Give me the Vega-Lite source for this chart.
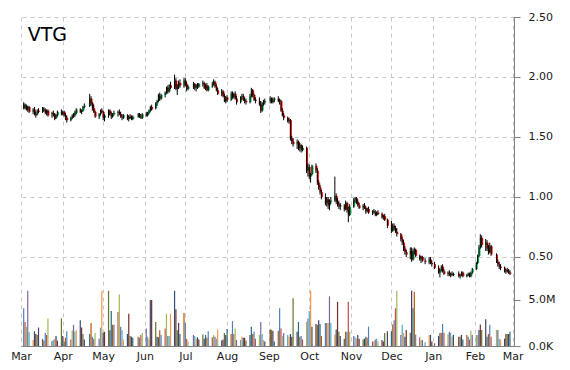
{
"$schema": "https://vega.github.io/schema/vega-lite/v6.json",
"width": 493, "height": 329,
"autosize": {"type": "none"},
"padding": {"left": 21, "top": 17, "right": 56, "bottom": 24},
"background": "white",
"config": {"view": {"stroke": null}, "axis": {"labelFont": "DejaVu Sans", "labelFontSize": 11, "labelColor": "#1a1a1a", "domainColor": "#808080", "tickColor": "#808080"}},
"datasets": {"px": [
{"d":"2014-03-03","o":1.77,"h":1.79,"l":1.73,"c":1.74,"v":4.1},
{"d":"2014-03-04","o":1.74,"h":1.78,"l":1.73,"c":1.77,"v":2.6},
{"d":"2014-03-05","o":1.76,"h":1.77,"l":1.72,"c":1.73,"v":2.1},
{"d":"2014-03-06","o":1.73,"h":1.76,"l":1.71,"c":1.75,"v":6.0},
{"d":"2014-03-07","o":1.75,"h":1.76,"l":1.70,"c":1.71,"v":1.5},
{"d":"2014-03-10","o":1.71,"h":1.74,"l":1.69,"c":1.73,"v":0.65},
{"d":"2014-03-11","o":1.73,"h":1.75,"l":1.68,"c":1.69,"v":1.6},
{"d":"2014-03-12","o":1.69,"h":1.71,"l":1.66,"c":1.68,"v":1.3},
{"d":"2014-03-13","o":1.69,"h":1.73,"l":1.68,"c":1.72,"v":1.2},
{"d":"2014-03-14","o":1.72,"h":1.74,"l":1.70,"c":1.71,"v":2.0},
{"d":"2014-03-17","o":1.71,"h":1.75,"l":1.70,"c":1.74,"v":0.75},
{"d":"2014-03-18","o":1.73,"h":1.75,"l":1.71,"c":1.72,"v":0.6},
{"d":"2014-03-19","o":1.72,"h":1.74,"l":1.69,"c":1.70,"v":1.4},
{"d":"2014-03-20","o":1.70,"h":1.73,"l":1.68,"c":1.72,"v":1.2},
{"d":"2014-03-21","o":1.72,"h":1.73,"l":1.67,"c":1.68,"v":3.0},
{"d":"2014-03-24","o":1.69,"h":1.71,"l":1.66,"c":1.70,"v":0.55},
{"d":"2014-03-25","o":1.70,"h":1.72,"l":1.67,"c":1.68,"v":0.65},
{"d":"2014-03-26","o":1.69,"h":1.70,"l":1.64,"c":1.65,"v":0.8},
{"d":"2014-03-27","o":1.66,"h":1.69,"l":1.65,"c":1.68,"v":1.1},
{"d":"2014-03-28","o":1.68,"h":1.72,"l":1.67,"c":1.71,"v":0.6},
{"d":"2014-03-31","o":1.71,"h":1.73,"l":1.68,"c":1.69,"v":3.0},
{"d":"2014-04-01","o":1.69,"h":1.72,"l":1.68,"c":1.71,"v":1.1},
{"d":"2014-04-02","o":1.71,"h":1.72,"l":1.67,"c":1.68,"v":0.5},
{"d":"2014-04-03","o":1.68,"h":1.70,"l":1.64,"c":1.66,"v":0.9},
{"d":"2014-04-04","o":1.66,"h":1.68,"l":1.62,"c":1.64,"v":1.6},
{"d":"2014-04-07","o":1.64,"h":1.67,"l":1.63,"c":1.66,"v":0.7},
{"d":"2014-04-08","o":1.66,"h":1.69,"l":1.65,"c":1.68,"v":1.7},
{"d":"2014-04-09","o":1.68,"h":1.70,"l":1.66,"c":1.67,"v":2.3},
{"d":"2014-04-10","o":1.68,"h":1.72,"l":1.67,"c":1.71,"v":1.55},
{"d":"2014-04-11","o":1.70,"h":1.74,"l":1.69,"c":1.73,"v":1.7},
{"d":"2014-04-14","o":1.73,"h":1.74,"l":1.70,"c":1.71,"v":2.8},
{"d":"2014-04-15","o":1.71,"h":1.73,"l":1.69,"c":1.72,"v":2.0},
{"d":"2014-04-16","o":1.72,"h":1.76,"l":1.71,"c":1.75,"v":1.3},
{"d":"2014-04-17","o":1.75,"h":1.78,"l":1.74,"c":1.76,"v":0.7},
{"d":"2014-04-21","o":1.76,"h":1.86,"l":1.75,"c":1.82,"v":1.3},
{"d":"2014-04-22","o":1.82,"h":1.84,"l":1.76,"c":1.78,"v":2.5},
{"d":"2014-04-23","o":1.78,"h":1.79,"l":1.72,"c":1.74,"v":1.0},
{"d":"2014-04-24","o":1.74,"h":1.77,"l":1.70,"c":1.71,"v":0.8},
{"d":"2014-04-25","o":1.71,"h":1.72,"l":1.66,"c":1.67,"v":1.4},
{"d":"2014-04-28","o":1.67,"h":1.70,"l":1.65,"c":1.69,"v":0.8},
{"d":"2014-04-29","o":1.69,"h":1.73,"l":1.68,"c":1.72,"v":2.0},
{"d":"2014-04-30","o":1.72,"h":1.74,"l":1.70,"c":1.71,"v":6.0},
{"d":"2014-05-01","o":1.71,"h":1.72,"l":1.64,"c":1.66,"v":1.45},
{"d":"2014-05-02","o":1.66,"h":1.69,"l":1.63,"c":1.68,"v":1.55},
{"d":"2014-05-05","o":1.68,"h":1.73,"l":1.66,"c":1.72,"v":6.0},
{"d":"2014-05-06","o":1.72,"h":1.73,"l":1.68,"c":1.69,"v":1.7},
{"d":"2014-05-07","o":1.69,"h":1.71,"l":1.65,"c":1.67,"v":3.8},
{"d":"2014-05-08","o":1.67,"h":1.70,"l":1.66,"c":1.69,"v":2.3},
{"d":"2014-05-09","o":1.69,"h":1.72,"l":1.68,"c":1.70,"v":2.35},
{"d":"2014-05-12","o":1.70,"h":1.72,"l":1.67,"c":1.71,"v":3.7},
{"d":"2014-05-13","o":1.71,"h":1.73,"l":1.68,"c":1.69,"v":5.6},
{"d":"2014-05-14","o":1.69,"h":1.71,"l":1.66,"c":1.67,"v":2.1},
{"d":"2014-05-15","o":1.67,"h":1.69,"l":1.64,"c":1.66,"v":1.7},
{"d":"2014-05-16","o":1.66,"h":1.69,"l":1.65,"c":1.68,"v":0.7},
{"d":"2014-05-19","o":1.68,"h":1.69,"l":1.64,"c":1.65,"v":1.3},
{"d":"2014-05-20","o":1.65,"h":1.68,"l":1.63,"c":1.67,"v":3.5},
{"d":"2014-05-21","o":1.67,"h":1.69,"l":1.65,"c":1.66,"v":1.1},
{"d":"2014-05-22","o":1.66,"h":1.68,"l":1.64,"c":1.65,"v":1.0},
{"d":"2014-05-23","o":1.65,"h":1.68,"l":1.64,"c":1.67,"v":0.9},
{"d":"2014-05-27","o":1.67,"h":1.70,"l":1.66,"c":1.69,"v":1.0},
{"d":"2014-05-28","o":1.69,"h":1.70,"l":1.66,"c":1.67,"v":0.9},
{"d":"2014-05-29","o":1.67,"h":1.69,"l":1.65,"c":1.66,"v":1.2},
{"d":"2014-05-30","o":1.66,"h":1.70,"l":1.65,"c":1.69,"v":1.4},
{"d":"2014-06-02","o":1.69,"h":1.71,"l":1.67,"c":1.68,"v":1.9},
{"d":"2014-06-03","o":1.68,"h":1.71,"l":1.67,"c":1.70,"v":1.0},
{"d":"2014-06-04","o":1.70,"h":1.73,"l":1.69,"c":1.72,"v":0.8},
{"d":"2014-06-05","o":1.72,"h":1.76,"l":1.71,"c":1.75,"v":5.0},
{"d":"2014-06-06","o":1.75,"h":1.77,"l":1.72,"c":1.73,"v":5.0},
{"d":"2014-06-09","o":1.74,"h":1.79,"l":1.73,"c":1.78,"v":2.6},
{"d":"2014-06-10","o":1.78,"h":1.81,"l":1.76,"c":1.80,"v":1.0},
{"d":"2014-06-11","o":1.80,"h":1.86,"l":1.79,"c":1.85,"v":0.95},
{"d":"2014-06-12","o":1.84,"h":1.87,"l":1.80,"c":1.82,"v":1.7},
{"d":"2014-06-13","o":1.82,"h":1.86,"l":1.81,"c":1.85,"v":1.2},
{"d":"2014-06-16","o":1.85,"h":1.88,"l":1.83,"c":1.87,"v":1.9},
{"d":"2014-06-17","o":1.87,"h":1.92,"l":1.86,"c":1.91,"v":3.5},
{"d":"2014-06-18","o":1.91,"h":1.93,"l":1.86,"c":1.88,"v":1.1},
{"d":"2014-06-19","o":1.88,"h":1.94,"l":1.87,"c":1.93,"v":1.1},
{"d":"2014-06-20","o":1.93,"h":1.96,"l":1.90,"c":1.91,"v":3.5},
{"d":"2014-06-23","o":1.92,"h":2.02,"l":1.90,"c":1.97,"v":6.0},
{"d":"2014-06-24","o":1.97,"h":1.99,"l":1.89,"c":1.90,"v":4.0},
{"d":"2014-06-25","o":1.90,"h":1.94,"l":1.85,"c":1.92,"v":1.7},
{"d":"2014-06-26","o":1.92,"h":1.97,"l":1.90,"c":1.95,"v":2.5},
{"d":"2014-06-27","o":1.95,"h":1.98,"l":1.91,"c":1.93,"v":1.3},
{"d":"2014-06-30","o":1.93,"h":1.99,"l":1.91,"c":1.97,"v":3.6},
{"d":"2014-07-01","o":1.97,"h":1.99,"l":1.92,"c":1.94,"v":2.5},
{"d":"2014-07-02","o":1.94,"h":1.96,"l":1.88,"c":1.90,"v":0.75},
{"d":"2014-07-03","o":1.90,"h":1.93,"l":1.89,"c":1.92,"v":0.5},
{"d":"2014-07-07","o":1.92,"h":1.96,"l":1.90,"c":1.94,"v":1.2},
{"d":"2014-07-08","o":1.94,"h":1.95,"l":1.89,"c":1.91,"v":1.1},
{"d":"2014-07-09","o":1.91,"h":1.94,"l":1.88,"c":1.93,"v":0.8},
{"d":"2014-07-10","o":1.93,"h":1.95,"l":1.90,"c":1.92,"v":0.95},
{"d":"2014-07-11","o":1.92,"h":1.95,"l":1.91,"c":1.94,"v":0.7},
{"d":"2014-07-14","o":1.94,"h":1.97,"l":1.92,"c":1.95,"v":1.25},
{"d":"2014-07-15","o":1.95,"h":1.96,"l":1.90,"c":1.91,"v":0.8},
{"d":"2014-07-16","o":1.91,"h":1.94,"l":1.89,"c":1.93,"v":1.2},
{"d":"2014-07-17","o":1.93,"h":1.95,"l":1.88,"c":1.89,"v":0.9},
{"d":"2014-07-18","o":1.89,"h":1.93,"l":1.88,"c":1.92,"v":1.6},
{"d":"2014-07-21","o":1.92,"h":1.96,"l":1.91,"c":1.94,"v":0.95},
{"d":"2014-07-22","o":1.94,"h":1.98,"l":1.93,"c":1.96,"v":1.2},
{"d":"2014-07-23","o":1.96,"h":1.97,"l":1.91,"c":1.92,"v":1.0},
{"d":"2014-07-24","o":1.92,"h":1.94,"l":1.88,"c":1.89,"v":0.8},
{"d":"2014-07-25","o":1.89,"h":1.91,"l":1.85,"c":1.86,"v":1.8},
{"d":"2014-07-28","o":1.86,"h":1.90,"l":1.84,"c":1.88,"v":0.6},
{"d":"2014-07-29","o":1.88,"h":1.89,"l":1.83,"c":1.84,"v":0.7},
{"d":"2014-07-30","o":1.84,"h":1.86,"l":1.79,"c":1.80,"v":1.4},
{"d":"2014-07-31","o":1.80,"h":1.84,"l":1.78,"c":1.83,"v":1.2},
{"d":"2014-08-01","o":1.83,"h":1.85,"l":1.79,"c":1.81,"v":1.85},
{"d":"2014-08-04","o":1.81,"h":1.88,"l":1.80,"c":1.86,"v":1.3},
{"d":"2014-08-05","o":1.86,"h":1.88,"l":1.82,"c":1.83,"v":2.7},
{"d":"2014-08-06","o":1.83,"h":1.87,"l":1.82,"c":1.86,"v":1.3},
{"d":"2014-08-07","o":1.86,"h":1.88,"l":1.81,"c":1.82,"v":1.9},
{"d":"2014-08-08","o":1.82,"h":1.84,"l":1.77,"c":1.79,"v":0.65},
{"d":"2014-08-11","o":1.79,"h":1.84,"l":1.78,"c":1.83,"v":0.65},
{"d":"2014-08-12","o":1.83,"h":1.86,"l":1.81,"c":1.84,"v":1.0},
{"d":"2014-08-13","o":1.84,"h":1.86,"l":1.80,"c":1.81,"v":0.9},
{"d":"2014-08-14","o":1.81,"h":1.83,"l":1.78,"c":1.80,"v":0.9},
{"d":"2014-08-15","o":1.80,"h":1.82,"l":1.77,"c":1.79,"v":0.6},
{"d":"2014-08-18","o":1.79,"h":1.86,"l":1.78,"c":1.84,"v":1.2},
{"d":"2014-08-19","o":1.84,"h":1.91,"l":1.83,"c":1.89,"v":2.1},
{"d":"2014-08-20","o":1.89,"h":1.90,"l":1.83,"c":1.85,"v":1.3},
{"d":"2014-08-21","o":1.85,"h":1.86,"l":1.80,"c":1.81,"v":1.55},
{"d":"2014-08-22","o":1.81,"h":1.83,"l":1.78,"c":1.80,"v":0.8},
{"d":"2014-08-25","o":1.80,"h":1.83,"l":1.76,"c":1.77,"v":1.2},
{"d":"2014-08-26","o":1.77,"h":1.80,"l":1.70,"c":1.72,"v":2.6},
{"d":"2014-08-27","o":1.72,"h":1.79,"l":1.71,"c":1.78,"v":1.3},
{"d":"2014-08-28","o":1.78,"h":1.81,"l":1.76,"c":1.79,"v":0.65},
{"d":"2014-08-29","o":1.79,"h":1.82,"l":1.77,"c":1.80,"v":0.5},
{"d":"2014-09-02","o":1.80,"h":1.84,"l":1.78,"c":1.82,"v":1.8},
{"d":"2014-09-03","o":1.82,"h":1.83,"l":1.78,"c":1.79,"v":1.75},
{"d":"2014-09-04","o":1.79,"h":1.83,"l":1.78,"c":1.81,"v":1.65},
{"d":"2014-09-05","o":1.81,"h":1.83,"l":1.79,"c":1.82,"v":0.5},
{"d":"2014-09-08","o":1.82,"h":1.84,"l":1.79,"c":1.80,"v":1.65},
{"d":"2014-09-09","o":1.80,"h":1.82,"l":1.77,"c":1.81,"v":4.1},
{"d":"2014-09-10","o":1.80,"h":1.81,"l":1.71,"c":1.72,"v":1.9},
{"d":"2014-09-11","o":1.72,"h":1.74,"l":1.67,"c":1.68,"v":1.1},
{"d":"2014-09-12","o":1.68,"h":1.70,"l":1.64,"c":1.66,"v":1.4},
{"d":"2014-09-15","o":1.66,"h":1.67,"l":1.62,"c":1.63,"v":1.2},
{"d":"2014-09-16","o":1.63,"h":1.66,"l":1.61,"c":1.64,"v":1.0},
{"d":"2014-09-17","o":1.64,"h":1.65,"l":1.47,"c":1.49,"v":1.3},
{"d":"2014-09-18","o":1.49,"h":1.51,"l":1.44,"c":1.46,"v":1.0},
{"d":"2014-09-19","o":1.46,"h":1.49,"l":1.42,"c":1.44,"v":5.2},
{"d":"2014-09-22","o":1.44,"h":1.48,"l":1.40,"c":1.46,"v":1.55},
{"d":"2014-09-23","o":1.46,"h":1.47,"l":1.39,"c":1.41,"v":2.6},
{"d":"2014-09-24","o":1.41,"h":1.45,"l":1.38,"c":1.43,"v":1.0},
{"d":"2014-09-25","o":1.43,"h":1.44,"l":1.37,"c":1.39,"v":1.1},
{"d":"2014-09-26","o":1.39,"h":1.43,"l":1.38,"c":1.41,"v":0.7},
{"d":"2014-09-29","o":1.41,"h":1.42,"l":1.20,"c":1.22,"v":2.6},
{"d":"2014-09-30","o":1.22,"h":1.28,"l":1.17,"c":1.25,"v":3.0},
{"d":"2014-10-01","o":1.25,"h":1.27,"l":1.15,"c":1.17,"v":3.8},
{"d":"2014-10-02","o":1.17,"h":1.20,"l":1.12,"c":1.19,"v":6.0},
{"d":"2014-10-03","o":1.19,"h":1.27,"l":1.18,"c":1.26,"v":2.1},
{"d":"2014-10-06","o":1.26,"h":1.28,"l":1.20,"c":1.22,"v":2.4},
{"d":"2014-10-07","o":1.22,"h":1.24,"l":1.10,"c":1.12,"v":2.3},
{"d":"2014-10-08","o":1.12,"h":1.14,"l":1.06,"c":1.08,"v":2.8},
{"d":"2014-10-09","o":1.08,"h":1.10,"l":1.02,"c":1.04,"v":2.4},
{"d":"2014-10-10","o":1.04,"h":1.06,"l":0.98,"c":1.00,"v":1.1},
{"d":"2014-10-13","o":1.00,"h":1.03,"l":0.93,"c":0.95,"v":2.5},
{"d":"2014-10-14","o":0.95,"h":1.00,"l":0.92,"c":0.98,"v":2.5},
{"d":"2014-10-15","o":0.98,"h":1.00,"l":0.90,"c":0.93,"v":2.5},
{"d":"2014-10-16","o":0.93,"h":0.98,"l":0.89,"c":0.96,"v":5.4},
{"d":"2014-10-17","o":0.96,"h":1.00,"l":0.94,"c":0.97,"v":2.5},
{"d":"2014-10-20","o":0.97,"h":1.17,"l":0.96,"c":1.01,"v":1.25},
{"d":"2014-10-21","o":1.01,"h":1.03,"l":0.94,"c":0.96,"v":1.8},
{"d":"2014-10-22","o":0.96,"h":0.99,"l":0.92,"c":0.94,"v":4.8},
{"d":"2014-10-23","o":0.94,"h":0.97,"l":0.90,"c":0.92,"v":1.55},
{"d":"2014-10-24","o":0.92,"h":0.95,"l":0.89,"c":0.93,"v":1.1},
{"d":"2014-10-27","o":0.93,"h":0.94,"l":0.88,"c":0.90,"v":0.8},
{"d":"2014-10-28","o":0.90,"h":0.97,"l":0.89,"c":0.95,"v":1.55},
{"d":"2014-10-29","o":0.95,"h":0.96,"l":0.87,"c":0.89,"v":1.55},
{"d":"2014-10-30","o":0.89,"h":0.92,"l":0.79,"c":0.85,"v":4.8},
{"d":"2014-10-31","o":0.85,"h":0.94,"l":0.84,"c":0.92,"v":1.55},
{"d":"2014-11-03","o":0.92,"h":0.99,"l":0.91,"c":0.98,"v":1.1},
{"d":"2014-11-04","o":0.98,"h":1.00,"l":0.95,"c":0.99,"v":0.95},
{"d":"2014-11-05","o":0.99,"h":1.00,"l":0.94,"c":0.96,"v":0.8},
{"d":"2014-11-06","o":0.96,"h":0.98,"l":0.92,"c":0.93,"v":1.2},
{"d":"2014-11-07","o":0.93,"h":0.95,"l":0.90,"c":0.91,"v":0.8},
{"d":"2014-11-10","o":0.91,"h":0.94,"l":0.89,"c":0.93,"v":0.7},
{"d":"2014-11-11","o":0.93,"h":0.95,"l":0.90,"c":0.91,"v":0.8},
{"d":"2014-11-12","o":0.91,"h":0.92,"l":0.86,"c":0.88,"v":1.0},
{"d":"2014-11-13","o":0.88,"h":0.91,"l":0.87,"c":0.90,"v":0.9},
{"d":"2014-11-14","o":0.90,"h":0.92,"l":0.86,"c":0.87,"v":2.1},
{"d":"2014-11-17","o":0.87,"h":0.89,"l":0.85,"c":0.88,"v":0.5},
{"d":"2014-11-18","o":0.88,"h":0.90,"l":0.86,"c":0.87,"v":0.5},
{"d":"2014-11-19","o":0.87,"h":0.89,"l":0.84,"c":0.85,"v":0.7},
{"d":"2014-11-20","o":0.85,"h":0.88,"l":0.84,"c":0.87,"v":0.8},
{"d":"2014-11-21","o":0.87,"h":0.89,"l":0.85,"c":0.86,"v":0.5},
{"d":"2014-11-24","o":0.86,"h":0.87,"l":0.82,"c":0.83,"v":0.65},
{"d":"2014-11-25","o":0.83,"h":0.85,"l":0.81,"c":0.84,"v":0.5},
{"d":"2014-11-26","o":0.84,"h":0.86,"l":0.80,"c":0.81,"v":1.4},
{"d":"2014-11-28","o":0.81,"h":0.82,"l":0.74,"c":0.76,"v":1.6},
{"d":"2014-12-01","o":0.77,"h":0.80,"l":0.70,"c":0.72,"v":1.6},
{"d":"2014-12-02","o":0.72,"h":0.78,"l":0.71,"c":0.76,"v":2.35},
{"d":"2014-12-03","o":0.76,"h":0.78,"l":0.72,"c":0.74,"v":2.8},
{"d":"2014-12-04","o":0.74,"h":0.76,"l":0.70,"c":0.71,"v":4.1},
{"d":"2014-12-05","o":0.71,"h":0.74,"l":0.67,"c":0.69,"v":6.0},
{"d":"2014-12-08","o":0.69,"h":0.70,"l":0.63,"c":0.65,"v":1.2},
{"d":"2014-12-09","o":0.65,"h":0.67,"l":0.60,"c":0.62,"v":2.3},
{"d":"2014-12-10","o":0.62,"h":0.64,"l":0.55,"c":0.57,"v":1.4},
{"d":"2014-12-11","o":0.57,"h":0.59,"l":0.52,"c":0.54,"v":1.0},
{"d":"2014-12-12","o":0.54,"h":0.56,"l":0.50,"c":0.52,"v":1.75},
{"d":"2014-12-15","o":0.52,"h":0.58,"l":0.48,"c":0.55,"v":1.45},
{"d":"2014-12-16","o":0.55,"h":0.58,"l":0.46,"c":0.48,"v":6.0},
{"d":"2014-12-17","o":0.48,"h":0.57,"l":0.47,"c":0.55,"v":4.1},
{"d":"2014-12-18","o":0.55,"h":0.58,"l":0.52,"c":0.56,"v":5.9},
{"d":"2014-12-19","o":0.56,"h":0.57,"l":0.50,"c":0.51,"v":1.25},
{"d":"2014-12-22","o":0.51,"h":0.52,"l":0.47,"c":0.48,"v":0.95},
{"d":"2014-12-23","o":0.48,"h":0.51,"l":0.45,"c":0.50,"v":0.65},
{"d":"2014-12-24","o":0.50,"h":0.51,"l":0.46,"c":0.47,"v":0.65},
{"d":"2014-12-26","o":0.47,"h":0.49,"l":0.44,"c":0.46,"v":0.4},
{"d":"2014-12-29","o":0.46,"h":0.50,"l":0.44,"c":0.48,"v":1.2},
{"d":"2014-12-30","o":0.48,"h":0.50,"l":0.44,"c":0.45,"v":1.2},
{"d":"2014-12-31","o":0.45,"h":0.47,"l":0.42,"c":0.44,"v":0.5},
{"d":"2015-01-02","o":0.44,"h":0.46,"l":0.40,"c":0.41,"v":0.3},
{"d":"2015-01-05","o":0.41,"h":0.43,"l":0.36,"c":0.37,"v":1.1},
{"d":"2015-01-06","o":0.37,"h":0.40,"l":0.33,"c":0.39,"v":1.4},
{"d":"2015-01-07","o":0.39,"h":0.43,"l":0.38,"c":0.42,"v":1.45},
{"d":"2015-01-08","o":0.42,"h":0.44,"l":0.37,"c":0.38,"v":2.4},
{"d":"2015-01-09","o":0.38,"h":0.40,"l":0.35,"c":0.36,"v":1.45},
{"d":"2015-01-12","o":0.36,"h":0.38,"l":0.34,"c":0.37,"v":1.3},
{"d":"2015-01-13","o":0.37,"h":0.39,"l":0.34,"c":0.35,"v":1.55},
{"d":"2015-01-14","o":0.35,"h":0.37,"l":0.33,"c":0.36,"v":1.45},
{"d":"2015-01-15","o":0.36,"h":0.38,"l":0.34,"c":0.35,"v":1.0},
{"d":"2015-01-16","o":0.35,"h":0.37,"l":0.34,"c":0.36,"v":1.2},
{"d":"2015-01-20","o":0.36,"h":0.38,"l":0.33,"c":0.34,"v":1.0},
{"d":"2015-01-21","o":0.34,"h":0.36,"l":0.32,"c":0.35,"v":1.0},
{"d":"2015-01-22","o":0.35,"h":0.38,"l":0.34,"c":0.37,"v":1.2},
{"d":"2015-01-23","o":0.37,"h":0.38,"l":0.33,"c":0.34,"v":0.7},
{"d":"2015-01-26","o":0.34,"h":0.36,"l":0.33,"c":0.35,"v":1.2},
{"d":"2015-01-27","o":0.35,"h":0.37,"l":0.34,"c":0.36,"v":1.0},
{"d":"2015-01-28","o":0.36,"h":0.37,"l":0.33,"c":0.34,"v":0.7},
{"d":"2015-01-29","o":0.34,"h":0.38,"l":0.33,"c":0.37,"v":1.65},
{"d":"2015-01-30","o":0.37,"h":0.41,"l":0.36,"c":0.40,"v":1.2},
{"d":"2015-02-02","o":0.40,"h":0.46,"l":0.39,"c":0.45,"v":1.2},
{"d":"2015-02-03","o":0.45,"h":0.52,"l":0.44,"c":0.51,"v":1.2},
{"d":"2015-02-04","o":0.51,"h":0.60,"l":0.50,"c":0.58,"v":1.75},
{"d":"2015-02-05","o":0.58,"h":0.69,"l":0.57,"c":0.66,"v":2.35},
{"d":"2015-02-06","o":0.66,"h":0.68,"l":0.58,"c":0.60,"v":1.75},
{"d":"2015-02-09","o":0.60,"h":0.65,"l":0.55,"c":0.62,"v":2.9},
{"d":"2015-02-10","o":0.62,"h":0.64,"l":0.55,"c":0.57,"v":1.0},
{"d":"2015-02-11","o":0.57,"h":0.60,"l":0.52,"c":0.54,"v":1.3},
{"d":"2015-02-12","o":0.54,"h":0.62,"l":0.53,"c":0.59,"v":2.3},
{"d":"2015-02-13","o":0.59,"h":0.60,"l":0.51,"c":0.52,"v":1.0},
{"d":"2015-02-17","o":0.52,"h":0.53,"l":0.45,"c":0.46,"v":1.75},
{"d":"2015-02-18","o":0.46,"h":0.48,"l":0.42,"c":0.44,"v":1.75},
{"d":"2015-02-19","o":0.44,"h":0.46,"l":0.40,"c":0.42,"v":0.8},
{"d":"2015-02-20","o":0.42,"h":0.44,"l":0.39,"c":0.41,"v":0.7},
{"d":"2015-02-23","o":0.41,"h":0.42,"l":0.37,"c":0.38,"v":0.8},
{"d":"2015-02-24","o":0.38,"h":0.40,"l":0.36,"c":0.39,"v":1.3},
{"d":"2015-02-25","o":0.39,"h":0.41,"l":0.37,"c":0.38,"v":1.3},
{"d":"2015-02-26","o":0.38,"h":0.40,"l":0.36,"c":0.37,"v":1.3},
{"d":"2015-02-27","o":0.37,"h":0.39,"l":0.35,"c":0.36,"v":1.55}
]},
"data": {"name": "px"},
"encoding": {
  "x": {"field": "d", "type": "temporal",
    "scale": {"type": "utc", "nice": false, "padding": 0, "domain": [{"year": 2014, "month": 3, "date": 1, "utc": true}, {"year": 2015, "month": 3, "date": 2, "utc": true}]},
    "axis": {"title": null, "format": "%b", "tickCount": {"interval": "month", "step": 1}, "grid": true, "gridDash": [4, 4], "gridColor": "#c8c8c8", "ticks": false, "labelPadding": 4, "labelFlush": false, "labelOverlap": false}}
},
"layer": [
  {
    "transform": [
      {"window": [{"op": "row_number", "as": "rn"}], "sort": [{"field": "d"}]},
      {"calculate": "(datum.rn - 1) % 12", "as": "k"}
    ],
    "mark": {"type": "bar", "width": 1.2},
    "encoding": {
      "y": {"field": "v", "type": "quantitative", "scale": {"domain": [0, 35.76], "nice": false, "zero": true},
        "axis": {"orient": "right", "title": null, "values": [0, 5], "labelExpr": "datum.value == 0 ? '0.0K' : '5.0M'", "grid": false, "tickSize": 6, "labelPadding": 8}},
      "color": {"field": "k", "type": "nominal", "legend": null,
        "scale": {"domain": [0,1,2,3,4,5,6,7,8,9,10,11], "range": ["#4F81BD","#C0504D","#9BBB59","#8064A2","#4BACC6","#F79646","#2C4D75","#772C2A","#5F7530","#4D3B62","#276A7C","#B65708"]}},
      "opacity": {"field": "d", "type": "temporal", "legend": null,
        "scale": {"type": "utc", "domain": [{"year": 2014, "month": 3, "date": 1, "utc": true}, {"year": 2014, "month": 10, "date": 20, "utc": true}, {"year": 2015, "month": 2, "date": 28, "utc": true}], "range": [1, 1, 0.35]}}
    }
  },
  {
    "layer": [
      {
        "mark": {"type": "bar", "width": 2, "xOffset": 0.5},
        "encoding": {
          "y": {"field": "o", "type": "quantitative", "scale": {"domain": [-0.2417, 2.5], "nice": false, "zero": false},
            "axis": {"orient": "right", "title": null, "values": [0.5, 1, 1.5, 2, 2.5], "format": ".2f", "grid": true, "gridDash": [4, 4], "gridColor": "#c8c8c8", "tickSize": 6, "labelPadding": 8}},
          "y2": {"field": "c"},
          "color": {"condition": {"test": "datum.c >= datum.o", "value": "#00B050"}, "value": "#FF0000"}
        }
      },
      {
        "mark": {"type": "rule", "color": "#000000", "strokeWidth": 1},
        "encoding": {
          "y": {"field": "l", "type": "quantitative"},
          "y2": {"field": "h"}
        }
      },
      {
        "data": {"values": [{"name": "VTG", "d": "2014-03-06", "p": 2.3}]},
        "mark": {"type": "text", "align": "left", "baseline": "alphabetic", "font": "DejaVu Sans", "fontSize": 19, "color": "#000000"},
        "encoding": {
          "x": {"field": "d", "type": "temporal"},
          "y": {"field": "p", "type": "quantitative"},
          "text": {"field": "name"}
        }
      }
    ]
  }
],
"resolve": {"scale": {"y": "independent"}, "axis": {"y": "independent"}}
}
